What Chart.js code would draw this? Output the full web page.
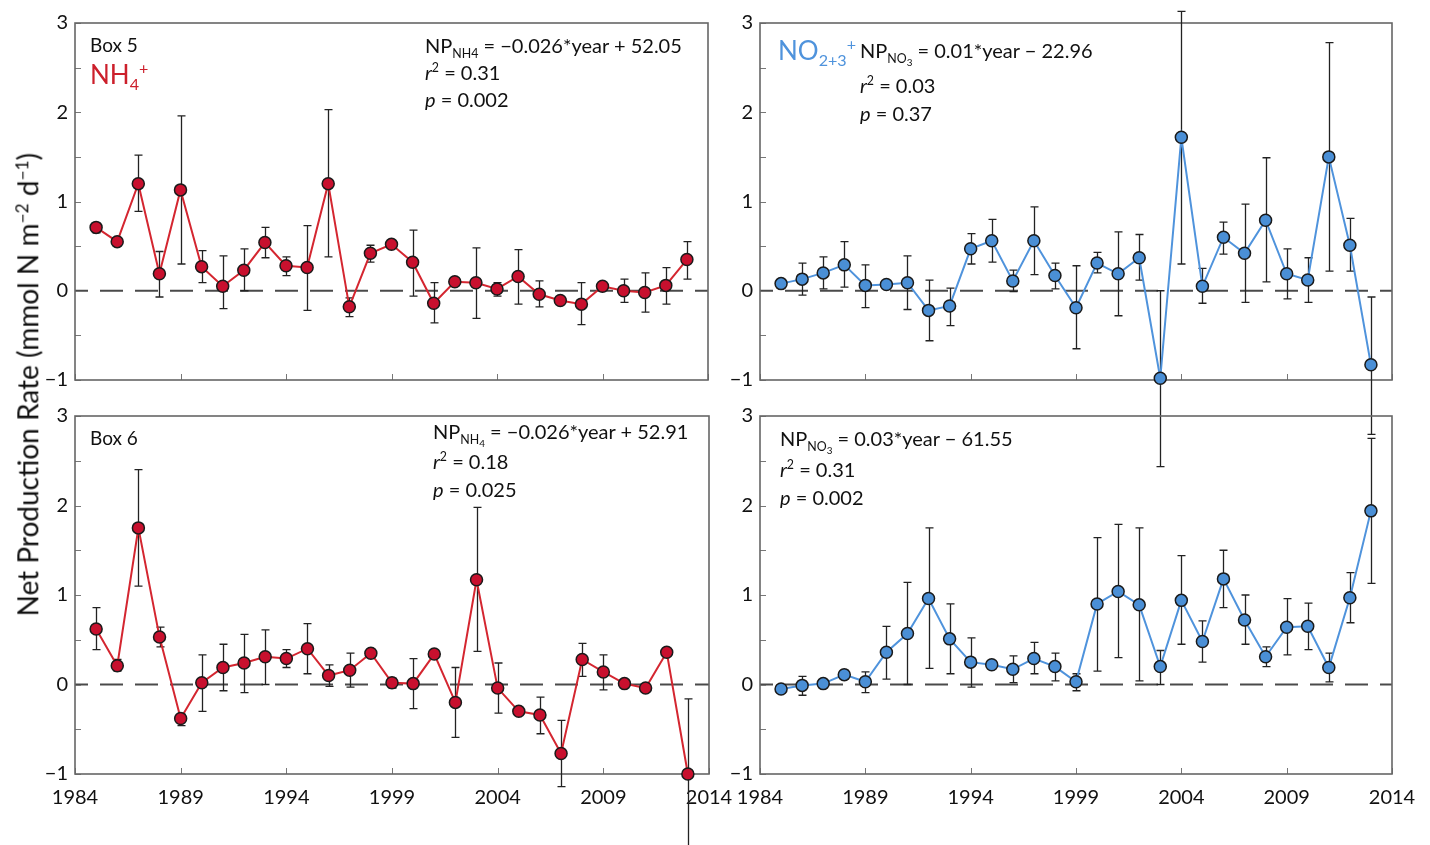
<!DOCTYPE html>
<html>
<head>
<meta charset="utf-8">
<script src="https://cdn.jsdelivr.net/npm/chart.js@4/dist/chart.umd.min.js"></script>
<style>
  body { margin: 0; background: #fff; }
  #page { position: relative; width: 1430px; height: 845px; overflow: hidden; font-family: Lato, "Open Sans", sans-serif; color: #111; }
  canvas { position: absolute; left: 0; top: 0; }
  .t { position: absolute; white-space: nowrap; font-size: 20px; line-height: 24px; }
  .t sub, .t sup { font-size: 62%; line-height: 0; }
  .big { font-size: 26px; }
  .red { color: #cc1f2b; }
  .blue { color: #4f93dc; }
  #ytitle { position: absolute; left: -275px; top: 367px; width: 600px; text-align: center; font-size: 28px; line-height: 30px; transform: rotate(-90deg); white-space: nowrap; }
</style>
</head>
<body>
<div id="page">
  <canvas id="c1" width="1430" height="845"></canvas>
  <canvas id="c2" width="1430" height="845"></canvas>
  <canvas id="c3" width="1430" height="845"></canvas>
  <canvas id="c4" width="1430" height="845"></canvas>

  <div id="ytitle">Net Production Rate (mmol N m<sup style="font-size:62%">−2</sup> d<sup style="font-size:62%">−1</sup>)</div>

  <!-- top left -->
  <div class="t" style="left:90px;top:33px;font-size:19px">Box 5</div>
  <div class="t big red" style="left:90px;top:62px">NH<sub>4</sub><sup>+</sup></div>
  <div class="t" style="left:425px;top:33px">NP<sub>NH4</sub> = −0.026*year + 52.05</div>
  <div class="t" style="left:425px;top:60px"><i>r</i><sup>2</sup> = 0.31</div>
  <div class="t" style="left:425px;top:87px"><i>p</i> = 0.002</div>

  <!-- top right -->
  <div class="t big blue" style="left:778px;top:38px">NO<sub>2+3</sub><sup>+</sup></div>
  <div class="t" style="left:860px;top:38px">NP<sub>NO<sub style="font-size:80%">3</sub></sub> = 0.01*year − 22.96</div>
  <div class="t" style="left:860px;top:73px"><i>r</i><sup>2</sup> = 0.03</div>
  <div class="t" style="left:860px;top:101px"><i>p</i> = 0.37</div>

  <!-- bottom left -->
  <div class="t" style="left:90px;top:426px;font-size:19px">Box 6</div>
  <div class="t" style="left:433px;top:419px">NP<sub>NH<sub style="font-size:80%">4</sub></sub> = −0.026*year + 52.91</div>
  <div class="t" style="left:433px;top:449px"><i>r</i><sup>2</sup> = 0.18</div>
  <div class="t" style="left:433px;top:477px"><i>p</i> = 0.025</div>

  <!-- bottom right -->
  <div class="t" style="left:780px;top:426px">NP<sub>NO<sub style="font-size:80%">3</sub></sub> = 0.03*year − 61.55</div>
  <div class="t" style="left:780px;top:457px"><i>r</i><sup>2</sup> = 0.31</div>
  <div class="t" style="left:780px;top:485px"><i>p</i> = 0.002</div>
</div>

<script>
// years of the annual estimates
var years = [1985, 1986, 1987, 1988, 1989, 1990, 1991, 1992, 1993, 1994,
             1995, 1996, 1997, 1998, 1999, 2000, 2001, 2002, 2003, 2004,
             2005, 2006, 2007, 2008, 2009, 2010, 2011, 2012, 2013];
var yearTicks = [1984, 1989, 1994, 1999, 2004, 2009, 2014];
var rateTicks = [-1, -0.5, 0, 0.5, 1, 1.5, 2, 2.5, 3];

// Box 5, NH4+
var box5Nh4   = [0.71, 0.55, 1.20, 0.19, 1.13, 0.27, 0.05, 0.23, 0.54, 0.28, 0.26, 1.20, -0.18, 0.42, 0.52, 0.32, -0.14, 0.10, 0.09, 0.02, 0.16, -0.04, -0.11, -0.15, 0.05, 0.00, -0.02, 0.06, 0.35];
var box5Nh4Hi = [0.75, 0.57, 1.52, 0.44, 1.96, 0.45, 0.39, 0.47, 0.71, 0.38, 0.73, 2.03, -0.08, 0.51, 0.56, 0.68, 0.09, 0.12, 0.48, 0.09, 0.46, 0.11, -0.09, 0.09, 0.07, 0.13, 0.20, 0.26, 0.55];
var box5Nh4Lo = [0.65, 0.53, 0.89, -0.07, 0.30, 0.09, -0.20, 0.00, 0.37, 0.17, -0.22, 0.38, -0.29, 0.32, 0.48, -0.06, -0.36, 0.08, -0.31, -0.06, -0.15, -0.18, -0.13, -0.38, 0.03, -0.13, -0.24, -0.15, 0.13];

// Box 5, NO2+3
var box5No3   = [0.08, 0.13, 0.20, 0.29, 0.06, 0.07, 0.09, -0.22, -0.17, 0.47, 0.56, 0.11, 0.56, 0.17, -0.19, 0.31, 0.19, 0.37, -0.98, 1.72, 0.05, 0.60, 0.42, 0.79, 0.19, 0.12, 1.50, 0.51, -0.83];
var box5No3Hi = [0.10, 0.31, 0.38, 0.55, 0.29, 0.09, 0.39, 0.12, 0.03, 0.64, 0.80, 0.23, 0.94, 0.31, 0.28, 0.43, 0.66, 0.63, 0.00, 3.13, 0.25, 0.77, 0.97, 1.49, 0.47, 0.37, 2.78, 0.81, -0.07];
var box5No3Lo = [0.06, -0.05, 0.02, 0.04, -0.19, 0.05, -0.21, -0.56, -0.39, 0.30, 0.32, -0.01, 0.18, 0.02, -0.65, 0.20, -0.28, 0.12, -1.97, 0.30, -0.14, 0.41, -0.13, 0.10, -0.09, -0.13, 0.22, 0.22, -1.61];

// Box 6, NH4+
var box6Nh4   = [0.62, 0.21, 1.75, 0.53, -0.38, 0.02, 0.19, 0.24, 0.31, 0.29, 0.40, 0.10, 0.16, 0.35, 0.02, 0.01, 0.34, -0.20, 1.17, -0.04, -0.30, -0.34, -0.77, 0.28, 0.14, 0.01, -0.04, 0.36, -1.00];
var box6Nh4Hi = [0.86, 0.28, 2.40, 0.64, -0.33, 0.33, 0.45, 0.56, 0.61, 0.39, 0.68, 0.22, 0.35, 0.37, 0.07, 0.29, 0.36, 0.19, 1.98, 0.24, -0.28, -0.14, -0.40, 0.46, 0.33, 0.03, -0.02, 0.38, -0.16];
var box6Nh4Lo = [0.39, 0.15, 1.10, 0.42, -0.46, -0.30, -0.07, -0.09, 0.00, 0.19, 0.12, -0.02, -0.03, 0.33, -0.04, -0.27, 0.32, -0.59, 0.37, -0.32, -0.32, -0.55, -1.14, 0.09, -0.06, -0.01, -0.06, 0.34, -1.95];

// Box 6, NO2+3
var box6No3   = [-0.05, -0.01, 0.01, 0.11, 0.03, 0.36, 0.57, 0.96, 0.51, 0.25, 0.22, 0.17, 0.29, 0.20, 0.03, 0.90, 1.04, 0.89, 0.20, 0.94, 0.48, 1.18, 0.72, 0.31, 0.64, 0.65, 0.19, 0.97, 1.94];
var box6No3Hi = [-0.03, 0.09, 0.03, 0.16, 0.14, 0.65, 1.14, 1.75, 0.90, 0.52, 0.24, 0.32, 0.47, 0.35, 0.12, 1.64, 1.79, 1.75, 0.38, 1.44, 0.71, 1.50, 1.00, 0.42, 0.96, 0.91, 0.35, 1.25, 2.75];
var box6No3Lo = [-0.07, -0.12, -0.01, 0.06, -0.09, 0.06, 0.00, 0.18, 0.12, -0.03, 0.20, 0.02, 0.12, 0.04, -0.07, 0.15, 0.30, 0.04, 0.00, 0.45, 0.25, 0.86, 0.45, 0.20, 0.33, 0.39, 0.03, 0.69, 1.13];

var W = 1430, H = 845;
var Y_AXIS_W = 40, X_AXIS_H = 40;

Chart.defaults.font.family = 'Lato, "Open Sans", sans-serif';
Chart.defaults.color = '#111';

// frame, inward ticks, dashed zero line and error bars
var panelDecor = {
	id: 'panelDecor',
	beforeDatasetsDraw: function(chart) {
		var ctx = chart.ctx, a = chart.chartArea;
		var x = chart.scales.x, y = chart.scales.y;
		ctx.save();

		// zero line
		var y0 = y.getPixelForValue(0);
		ctx.strokeStyle = '#4a4a4a';
		ctx.lineWidth = 2;
		ctx.setLineDash([23, 12]);
		ctx.lineDashOffset = 10;
		ctx.beginPath();
		ctx.moveTo(a.left, y0);
		ctx.lineTo(a.right, y0);
		ctx.stroke();
		ctx.setLineDash([]);

		// ticks pointing inside
		ctx.strokeStyle = '#777';
		ctx.lineWidth = 1;
		ctx.beginPath();
		rateTicks.forEach(function(v) {
			var py = Math.round(y.getPixelForValue(v)) + 0.5;
			ctx.moveTo(a.left, py);
			ctx.lineTo(a.left + 6, py);
		});
		yearTicks.forEach(function(v) {
			var px = Math.round(x.getPixelForValue(v)) + 0.5;
			ctx.moveTo(px, a.bottom);
			ctx.lineTo(px, a.bottom - 6);
		});
		ctx.stroke();

		// frame
		ctx.strokeStyle = '#666';
		ctx.lineWidth = 1.6;
		ctx.strokeRect(a.left, a.top, a.right - a.left, a.bottom - a.top);

		// error bars, not clipped
		ctx.strokeStyle = '#222';
		ctx.lineWidth = 1.3;
		chart.data.datasets.forEach(function(ds) {
			ds.data.forEach(function(pt, i) {
				var px = Math.round(x.getPixelForValue(pt.x)) + 0.5;
				var hi = y.getPixelForValue(ds.errHi[i]);
				var lo = y.getPixelForValue(ds.errLo[i]);
				ctx.beginPath();
				ctx.moveTo(px, hi);
				ctx.lineTo(px, lo);
				ctx.moveTo(px - 4, hi);
				ctx.lineTo(px + 4, hi);
				ctx.moveTo(px - 4, lo);
				ctx.lineTo(px + 4, lo);
				ctx.stroke();
			});
		});
		ctx.restore();
	}
};

function makePanel(id, area, values, hi, lo, lineColor, fillColor, showYears) {
	var pts = [];
	for (var i = 0; i < years.length; i++) {
		pts.push({x: years[i], y: values[i]});
	}
	return new Chart(document.getElementById(id), {
		type: 'line',
		data: {
			datasets: [{
				data: pts,
				errHi: hi,
				errLo: lo,
				borderColor: lineColor,
				borderWidth: 2,
				pointRadius: 6,
				pointBorderWidth: 1.5,
				pointBorderColor: '#1a1a1a',
				pointBackgroundColor: fillColor,
				tension: 0,
				clip: false
			}]
		},
		plugins: [panelDecor],
		options: {
			responsive: false,
			animation: false,
			events: [],
			layout: {padding: {
				left: area.left - Y_AXIS_W,
				top: area.top,
				right: W - area.right,
				bottom: H - area.bottom - X_AXIS_H
			}},
			plugins: {legend: {display: false}, tooltip: {enabled: false}},
			scales: {
				x: {
					type: 'linear', min: 1984, max: 2014,
					grid: {display: false, drawTicks: false},
					border: {display: false},
					afterBuildTicks: function(s) { s.ticks = yearTicks.map(function(v) { return {value: v}; }); },
					afterFit: function(s) { s.height = X_AXIS_H; },
					ticks: {display: showYears, padding: 12, maxRotation: 0, autoSkip: false,
						font: {size: 20}, callback: function(v) { return String(v); }}
				},
				y: {
					min: -1, max: 3,
					grid: {display: false, drawTicks: false},
					border: {display: false},
					afterBuildTicks: function(s) { s.ticks = rateTicks.map(function(v) { return {value: v}; }); },
					afterFit: function(s) { s.width = Y_AXIS_W; },
					ticks: {padding: 7, font: {size: 20},
						callback: function(v) {
							if (v % 1 !== 0) return '';
							return v < 0 ? '\u2212' + Math.abs(v) : String(v);
						}}
				}
			}
		}
	});
}

var red = '#d42630', redFill = '#c8102e';
var blue = '#4f93dc', blueFill = '#4a8fd6';

makePanel('c1', {left: 75, top: 23, right: 708, bottom: 380}, box5Nh4, box5Nh4Hi, box5Nh4Lo, red, redFill, false);
makePanel('c2', {left: 760, top: 23, right: 1392, bottom: 380}, box5No3, box5No3Hi, box5No3Lo, blue, blueFill, false);
makePanel('c3', {left: 75, top: 416, right: 709, bottom: 774}, box6Nh4, box6Nh4Hi, box6Nh4Lo, red, redFill, true);
makePanel('c4', {left: 760, top: 416, right: 1392, bottom: 774}, box6No3, box6No3Hi, box6No3Lo, blue, blueFill, true);
</script>
</body>
</html>
